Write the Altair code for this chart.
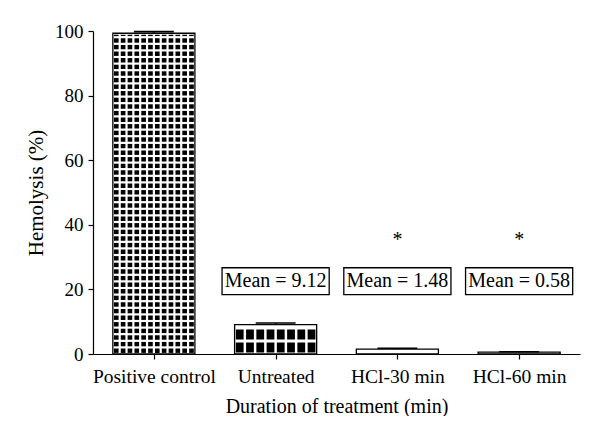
import json
import altair as alt
import pandas as pd

# ---------------- data ----------------
categories = ["Positive control", "Untreated", "HCl-30 min", "HCl-60 min"]
hemolysis = [99.3, 9.12, 1.48, 0.58]
error = [0.5, 0.5, 0.3, 0.1]
mean_labels = ["", "Mean = 9.12", "Mean = 1.48", "Mean = 0.58"]
significance = ["", "", "*", "*"]
y_ticks = [0, 10, 20, 30, 40, 50, 60, 70, 80, 90, 100]

df = pd.DataFrame({
    "idx": list(range(len(categories))),
    "category": categories,
    "value": hemolysis,
    "err": error,
    "mean_label": mean_labels,
    "sig": significance,
})

# ---------------- style ----------------
FONT = "Liberation Serif"
W, H = 487, 323
PX_PER_Y = H / 100.0
HALF = 0.337      # half bar width (band units)
CAP = 0.164       # half error-cap width
BOX = 0.44        # half width of the "Mean" boxes
# fill pattern per bar: columns, square fraction of column, row period px, square height px
pat_cols = [12, 8, 0, 0]
pat_frac = [0.68, 0.76, 0.7, 0.7]
pat_rowpx = [6.6, 13.0, 6.6, 6.6]
pat_sqpx = [4.4, 10.0, 4.4, 4.4]

xscale = alt.Scale(domain=[-0.5, 3.5], nice=False, zero=False)
yscale = alt.Scale(domain=[0, 100], nice=False)

base = alt.Chart(df)

x_axis = alt.Axis(
    values=[0, 1, 2, 3],
    labelExpr=f"{json.dumps(categories)}[datum.value]",
    title="Duration of treatment (min)",
    tickSize=5,
    labelPadding=23,
    labelBaseline="alphabetic",
    labelFlush=False,
    labelOverlap=False,
    labelFontSize=19.5,
    titleFontSize=20,
    titleBaseline="alphabetic",
    titleY=58,
)
y_axis = alt.Axis(
    values=y_ticks,
    labelExpr="datum.value % 20 === 0 ? datum.label : ''",
    tickSize={"condition": {"test": "datum.value % 20 === 0", "value": 5}, "value": 3},
    labelPadding=5,
    labelFlush=False,
    labelFontSize=19,
    title="Hemolysis (%)",
    titleFontSize=21,
    titleBaseline="alphabetic",
    titleX=-51,
)

bars = base.transform_calculate(
    xl=f"datum.idx - {HALF}", xr=f"datum.idx + {HALF}"
).mark_rect(fill="white", stroke="black", strokeWidth=1.3).encode(
    x=alt.X("xl:Q", scale=xscale, axis=x_axis),
    x2="xr:Q",
    y=alt.Y("value:Q", scale=yscale, axis=y_axis),
    y2=alt.datum(0),
)

pattern = base.transform_calculate(
    ncol=f"{json.dumps(pat_cols)}[datum.idx]",
    frac=f"{json.dumps(pat_frac)}[datum.idx]",
    rowp=f"{json.dumps(pat_rowpx)}[datum.idx] / {PX_PER_Y}",
    sqh=f"{json.dumps(pat_sqpx)}[datum.idx] / {PX_PER_Y}",
).transform_filter("datum.ncol > 0").transform_calculate(
    j="sequence(0, datum.ncol)"
).transform_flatten(["j"]).transform_calculate(
    k="sequence(0, ceil(datum.value / datum.rowp))"
).transform_flatten(["k"]).transform_calculate(
    cw=f"{2 * HALF} / datum.ncol",
).transform_calculate(
    sqw="datum.cw * datum.frac",
).transform_calculate(
    px1=f"datum.idx - {HALF} + datum.j * datum.cw + (datum.cw - datum.sqw) / 2",
    py1="(datum.rowp - datum.sqh) / 2 + datum.k * datum.rowp",
).transform_calculate(
    px2="datum.px1 + datum.sqw",
    py2="min(datum.py1 + datum.sqh, datum.value - 0.45)",
).transform_filter("datum.py2 > datum.py1 + 0.25").mark_rect(color="black").encode(
    x=alt.X("px1:Q", scale=xscale),
    x2="px2:Q",
    y=alt.Y("py1:Q", scale=yscale),
    y2="py2:Q",
)

err_v = base.transform_calculate(top="datum.value + datum.err").mark_rule(
    color="black", strokeWidth=1.3
).encode(x=alt.X("idx:Q", scale=xscale), y=alt.Y("value:Q", scale=yscale), y2="top:Q")

err_cap = base.transform_calculate(
    top="datum.value + datum.err",
    cl=f"datum.idx - {CAP}",
    cr=f"datum.idx + {CAP}",
).mark_rule(color="black", strokeWidth=1.6).encode(
    x=alt.X("cl:Q", scale=xscale), x2="cr:Q", y=alt.Y("top:Q", scale=yscale)
)

boxes = base.transform_filter("datum.mean_label != ''").transform_calculate(
    bl=f"datum.idx - {BOX}", br=f"datum.idx + {BOX}"
).mark_rect(fill="white", stroke="black", strokeWidth=1.3).encode(
    x=alt.X("bl:Q", scale=xscale),
    x2="br:Q",
    y=alt.datum(18.4, scale=yscale),
    y2=alt.datum(26.7),
)

box_text = base.transform_filter("datum.mean_label != ''").mark_text(
    font=FONT, fontSize=20, baseline="middle", align="center", color="black"
).encode(
    x=alt.X("idx:Q", scale=xscale),
    y=alt.datum(22.5, scale=yscale),
    text="mean_label:N",
)

stars = base.transform_filter("datum.sig != ''").mark_text(
    font=FONT, fontSize=20, baseline="alphabetic", align="center", color="black"
).encode(
    x=alt.X("idx:Q", scale=xscale),
    y=alt.datum(33.5, scale=yscale),
    text="sig:N",
)

chart = alt.layer(bars, pattern, err_v, err_cap, boxes, box_text, stars).properties(
    width=W,
    height=H,
    padding={"left": 85, "top": 23, "right": 8, "bottom": 62},
    autosize=alt.AutoSizeParams(type="none"),
).configure_view(stroke=None).configure_axis(
    grid=False,
    domainColor="black",
    domainWidth=1.2,
    tickColor="black",
    tickWidth=1.2,
    labelColor="black",
    titleColor="black",
    labelFont=FONT,
    titleFont=FONT,
    titleFontWeight="normal",
)

chart.save("out.html", embed_options={"renderer": "svg", "actions": False})
